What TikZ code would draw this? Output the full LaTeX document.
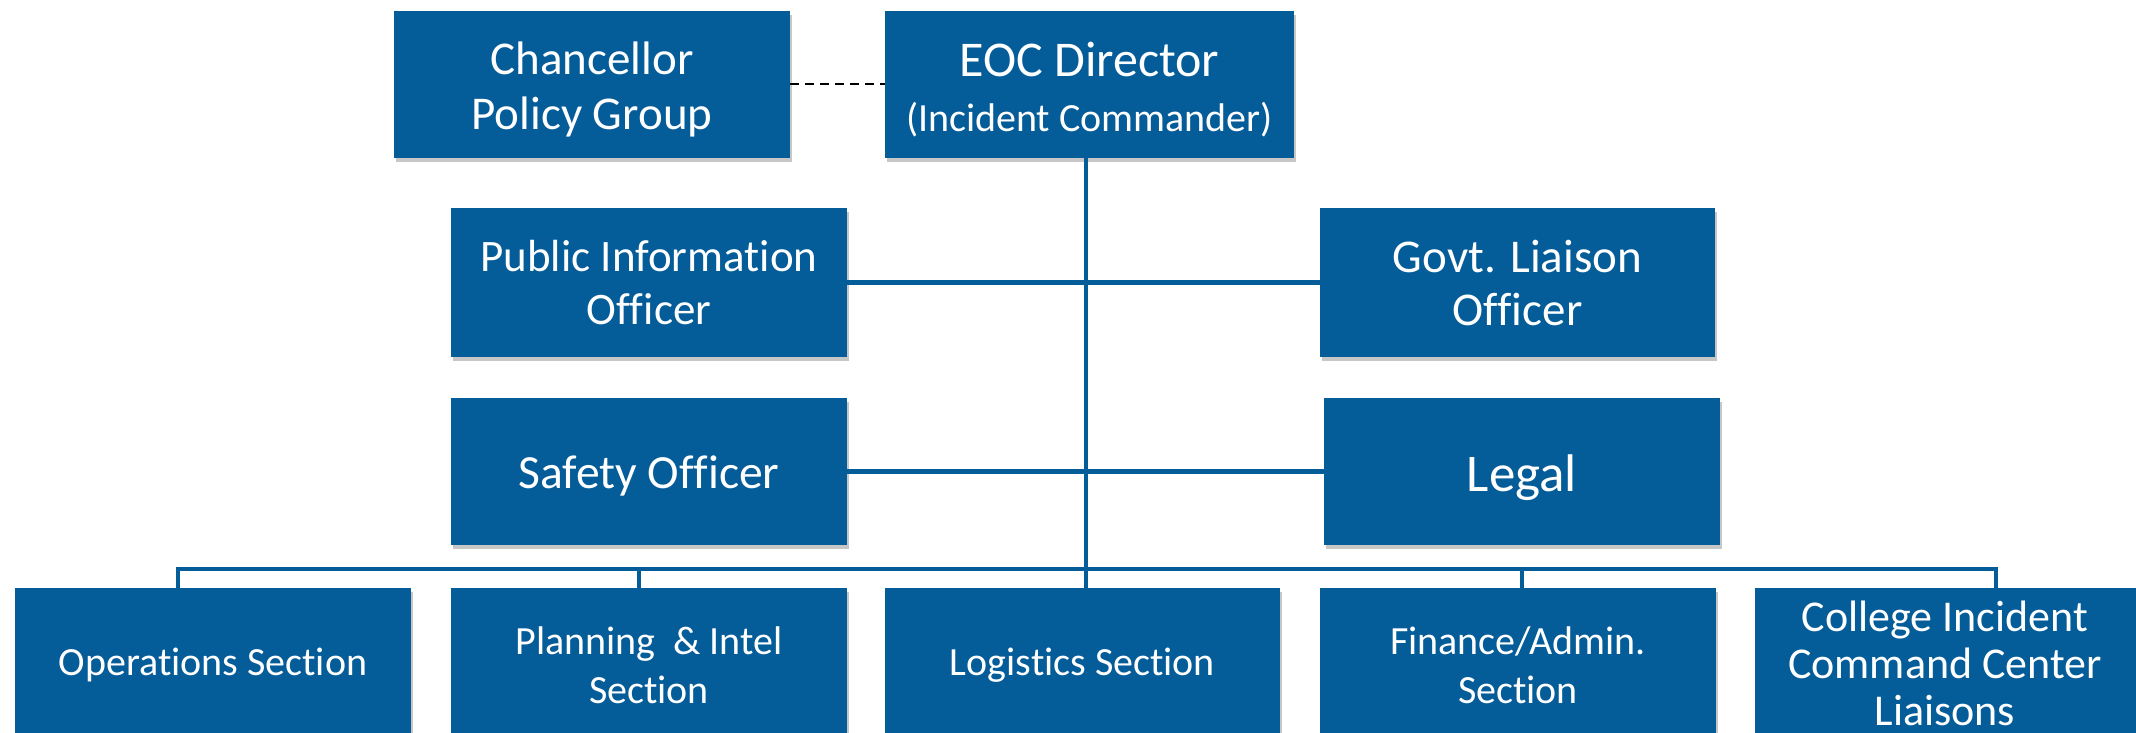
\documentclass[tikz,border=0pt]{standalone}
\usepackage{fontspec}
\setmainfont{Carlito}[RawFeature=-liga]
\usetikzlibrary{shadows}
\definecolor{boxblue}{HTML}{045C99}
\tikzset{
  box/.style={draw=none, fill=boxblue, text=white, align=center, inner sep=0pt,
    minimum width=198pt, minimum height=73.5pt,
    drop shadow={shadow xshift=1.2pt, shadow yshift=-1.8pt, opacity=0.22, fill=black}},
  lbl/.style={text=white, align=center, inner sep=0pt},
  conn/.style={draw=boxblue, line width=2.2pt},
}
\newcommand{\fs}[2]{\fontsize{#1}{#2}\selectfont}
\begin{document}
\begin{tikzpicture}[x=0.5pt,y=-0.5pt]
\useasboundingbox (0,0) rectangle (2136,733);
\clip (0,0) rectangle (2136,733);
\fill[white] (0,0) rectangle (2136,733);
% top row
\node[box, label={[lbl, font=\fs{23.5}{27.3}, yshift=-2.5pt]center:Chancellor\\Policy Group}] (chan) at (592,84.5) {};
\node[box, minimum width=204.5pt, label={[lbl, font=\fs{25}{27.3}, yshift=-2.5pt]center:EOC Director\\\fs{20}{27.3}(Incident Commander)}] (eoc) at (1089.5,84.5) {};
% staff
\node[box, minimum height=74.5pt, font=\fs{22.5}{26.5}] (pio) at (649,282.5) {Public Information\\Officer};
\node[box, minimum height=74.5pt, minimum width=197.5pt, font=\fs{23.5}{26.5}] (govt) at (1517.5,282.5) {Govt. Liaison\\Officer};
\node[box, label={[lbl, font=\fs{23.8}{26.5}, yshift=-2pt]center:Safety Officer}] (safety) at (649,471.5) {};
\node[box, label={[lbl, font=\fs{26.5}{28}, yshift=-3pt]center:Legal}] (legal) at (1522,471.5) {};
% sections
\node[box, minimum height=77pt, font=\fs{20}{24.5}] (ops) at (213,665) {Operations Section};
\node[box, minimum height=77pt, font=\fs{20}{24.5}] (plan) at (649,665) {Planning \ \& Intel\\Section};
\node[box, minimum height=77pt, minimum width=197.5pt, font=\fs{20}{24.5}] (log) at (1082.5,665) {Logistics Section};
\node[box, minimum height=77pt, font=\fs{20}{24.5}] (fin) at (1518,665) {Finance/Admin.\\Section};
\node[box, minimum height=77pt] (coll) at (1953,665) {};
\node[lbl, font=\fs{22}{23.5}] (colltext) at (1945,663) {College Incident\\Command Center\\Liaisons};
% connectors
\coordinate (bus) at (1086,569);
\draw[black, line width=1pt, dash pattern=on 4.5pt off 3pt] (chan.east) -- (eoc.west);
\draw[conn] (eoc.south -| bus) -- (log.north -| bus);
\draw[conn] (pio.east) -- (govt.west);
\draw[conn] (safety.east) -- (legal.west);
\draw[conn] (ops.north -| 178,0) |- (bus) -| (coll.north -| 1996,0);
\draw[conn] (plan.north -| 639,0) -- (639,569);
\draw[conn] (fin.north -| 1522,0) -- (1522,569);
\end{tikzpicture}
\end{document}
